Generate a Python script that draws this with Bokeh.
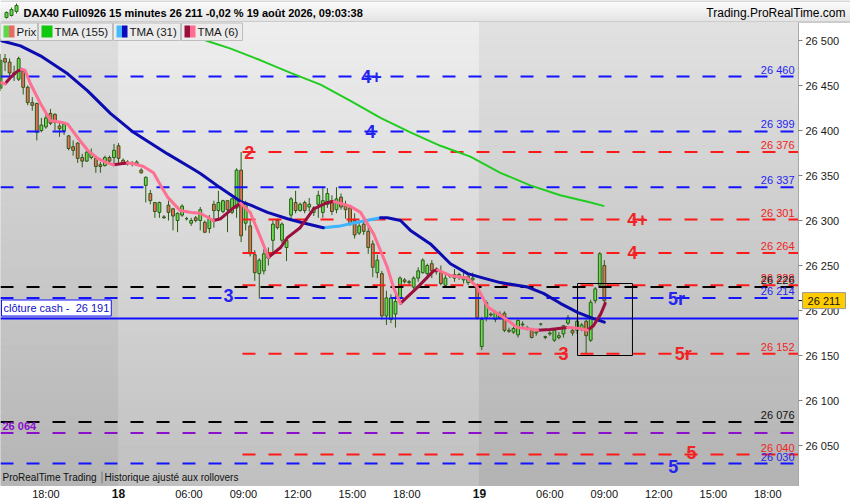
import numpy as np
from bokeh.plotting import figure
from bokeh.models import Range1d, LinearAxis, FixedTicker, Label
from bokeh.core.properties import value
from bokeh.embed import file_html
from bokeh.resources import INLINE

FONT = "Liberation Sans"

# ---------------- data ----------------
# 15-minute candles, bar index 0 = 17 Aug 15:30
opens = [26447,26480,26476,26464,26457,26466,26448,26431,26430,26400,26404,26419,26418,26405,26400,26394,26382,26386,26370,26366,
         26370,26369,26362,26361,26370,26370,26383,26367,26365,26364,26363,26356,26339,26330,26320,26309,26304,26317,26313,26300,
         26306,26302,26297,26303,26300,26298,26291,26318,26311,26310,26322,26309,26314,26356,26297,26294,26262,26241,26244,26258,
         26278,26300,26278,26270,26306,26320,26311,26320,26315,26309,26318,26309,26318,26322,26312,26326,26318,26314,26300,26286,
         26296,26288,26274,26242,26241,26194,26190,26196,26214,26234,26232,26226,26236,26242,26241,26252,26246,26242,26228,26238,
         26236,26238,26234,26231,26234,26226,26160,26192,26196,26190,26192,26197,26178,26176,26173,26185,26180,26178,26175,26185,
         26171,26174,26167,26170,26174,26186,26178,26178,26180,26188,26167,26211,26228,26250]
highs = [26485,26485,26480,26472,26482,26468,26450,26437,26431,26414,26420,26424,26419,26410,26408,26395,26389,26387,26374,26378,
         26380,26372,26365,26372,26372,26385,26386,26369,26367,26366,26367,26358,26349,26334,26320,26321,26306,26322,26314,26309,
         26318,26304,26303,26305,26315,26300,26306,26322,26333,26323,26322,26325,26358,26376,26322,26300,26267,26258,26268,26270,
         26300,26302,26298,26280,26326,26333,26320,26322,26325,26316,26333,26337,26336,26328,26337,26330,26322,26316,26308,26300,
         26302,26297,26278,26262,26244,26222,26218,26222,26238,26236,26234,26238,26248,26258,26252,26256,26248,26250,26240,26240,
         26246,26242,26242,26240,26242,26230,26193,26211,26198,26200,26199,26199,26181,26182,26190,26188,26183,26180,26178,26186,
         26172,26177,26180,26176,26184,26195,26180,26190,26186,26190,26212,26226,26265,26256]
lows = [26444,26466,26460,26455,26455,26440,26428,26422,26389,26398,26402,26406,26400,26393,26395,26378,26372,26364,26359,26365,
        26368,26353,26353,26360,26362,26363,26364,26362,26361,26360,26361,26352,26320,26318,26303,26303,26302,26300,26289,26287,
        26304,26300,26294,26298,26289,26286,26286,26292,26300,26308,26287,26307,26303,26276,26289,26260,26233,26213,26240,26250,
        26262,26290,26275,26255,26300,26308,26310,26308,26310,26305,26303,26303,26314,26306,26308,26312,26302,26294,26280,26284,
        26284,26263,26237,26236,26190,26184,26186,26181,26212,26230,26228,26224,26232,26241,26238,26236,26240,26228,26226,26236,
        26232,26234,26230,26228,26230,26190,26156,26188,26193,26187,26190,26176,26175,26174,26170,26182,26178,26169,26172,26183,
        26168,26172,26165,26168,26170,26184,26172,26174,26177,26152,26165,26208,26226,26205]
closes = [26478,26476,26464,26462,26480,26448,26431,26428,26398,26406,26414,26408,26409,26402,26407,26380,26378,26369,26366,26376,
          26375,26360,26360,26370,26366,26378,26369,26363,26364,26363,26365,26353,26348,26322,26310,26320,26303,26309,26305,26308,
          26316,26302,26300,26300,26312,26287,26302,26311,26320,26322,26312,26324,26356,26283,26320,26263,26242,26256,26263,26262,
          26296,26292,26296,26278,26324,26311,26318,26311,26318,26314,26328,26322,26330,26310,26324,26315,26312,26296,26284,26294,
          26288,26270,26248,26256,26194,26214,26214,26210,26236,26232,26231,26236,26244,26256,26250,26244,26243,26230,26236,26238,
          26240,26240,26236,26238,26236,26192,26190,26209,26195,26198,26196,26178,26177,26180,26189,26184,26181,26170,26176,26185,
          26170,26175,26178,26172,26183,26192,26175,26188,26184,26172,26209,26224,26263,26211]
bars = list(range(len(opens)))

# TMA(155)
tma155_x = [45.2, 50.7, 57.3, 63.9, 70.5, 77.1, 83.7, 90.3, 96.9, 103.5, 110.1, 116.7, 123.3, 130.0, 133.0]
tma155_y = [26500, 26491, 26478, 26464, 26451, 26433, 26414, 26398, 26383, 26371, 26353, 26339, 26328, 26320, 26316]
# TMA(31)
tma31_x = [0, 4.4, 8.8, 14.8, 19.2, 24.2, 29.3, 32.4, 36.8, 42.5, 44.1, 48.5, 52.9, 55.1, 58.8, 63.2, 66.1, 71.1, 74.9,
           78.6, 83.7, 85.2, 88.1, 90.3, 94.7, 99.1, 102.9, 106.4, 110.1, 116.1, 119.6, 123.3, 127.1, 130.6, 133.0]
tma31_y = [26500, 26494, 26483, 26463, 26444, 26419, 26398, 26388, 26374, 26357, 26352, 26336, 26321, 26317, 26309, 26302,
           26298, 26292, 26294, 26298, 26303, 26303, 26300, 26289, 26274, 26252, 26241, 26236, 26231, 26226, 26219, 26208,
           26198, 26191, 26187]
# TMA(6)
tma6_x = [0.0, 1.0, 2.2, 3.5, 4.6, 5.4, 6.6, 8.8, 11.0, 13.6, 14.8, 17.0, 19.2, 21.4, 23.5, 24.9, 26.5, 28.0, 29.3, 31.5,
          33.7, 35.5, 36.8, 39.6, 42.0, 44.0, 46.9, 48.5, 51.3, 52.9, 55.0, 57.3, 59.0, 61.7, 63.2, 66.0, 69.0, 72.0, 73.5,
          75.0, 77.0, 79.3, 82.2, 85.2, 86.6, 88.1, 91.9, 95.4, 96.3, 99.0, 102.9, 105.0, 107.3, 110.0, 112.3, 113.9, 117.4,
          118.3, 121.0, 124.9, 125.6, 127.5, 129.3, 130.6, 132.2, 133.2]
tma6_y = [26453, 26452, 26459, 26465, 26468, 26467, 26452, 26430, 26411, 26409, 26407, 26392, 26378, 26369, 26364, 26362,
          26363, 26364, 26363, 26360, 26353, 26337, 26326, 26311, 26309, 26308, 26300, 26302, 26314, 26319, 26309, 26281,
          26259, 26270, 26281, 26292, 26313, 26320, 26321, 26319, 26316, 26309, 26285, 26248, 26225, 26208, 26226, 26244,
          26245, 26239, 26236, 26226, 26204, 26195, 26187, 26181, 26179, 26178, 26179, 26181, 26181, 26180, 26178, 26183,
          26196, 26208]

# horizontal levels
level_vals = [26460, 26399, 26376, 26337, 26301, 26264, 26228, 26226, 26214, 26191, 26152, 26076, 26064, 26040, 26030]
level_kind = ["blue", "blue", "red", "blue", "red", "red", "red", "black", "blue", "cash", "red", "black", "purple", "red", "blue"]
red_level_start = 53.3          # 09:00 on the 18th
cash_close = 26191

# level annotations
ann_text = ["4+", "4", "2", "3", "4+", "4", "5r", "3", "5r", "5", "5"]
ann_level = [26460, 26399, 26376, 26214, 26301, 26264, 26214, 26152, 26152, 26040, 26030]
ann_bar = [81.7, 81.5, 54.8, 50.2, 140.3, 139.2, 148.9, 124.0, 150.4, 152.2, 148.2]
ann_kind = ["blue", "blue", "red", "blue", "red", "red", "blue", "red", "red", "red", "blue"]
ann_dy = [0, 0, 0, -2, 0, 0, 1, 0, 0, -2, 3]

# box around the latest bars
box_bars = (127.1, 139.2)
box_vals = (26150, 26230)

last_price = 26211
yticks = [26050, 26100, 26150, 26200, 26250, 26300, 26350, 26400, 26450, 26500]
xtick_pos = [10, 26, 41.5, 53.5, 65.5, 77.5, 89.5, 105.5, 121, 133, 145, 157, 169]
xtick_lbl = ["18:00", "18", "06:00", "09:00", "12:00", "15:00", "18:00", "19", "06:00", "09:00", "12:00", "15:00", "18:00"]
day_starts = [26, 105.5]

# ---------------- layout helpers ----------------
PXB = 4.54    # pixels per bar
PXP = 0.9     # pixels per point
def bx(px):
    return px / PXB
def vy(py):
    return 26500 - (py - 40) / PXP

def fmt(v):
    return f"{v:,}".replace(",", " ")

def lerp(c0, c1, t):
    a = [int(c0[i:i + 2], 16) for i in (1, 3, 5)]
    b = [int(c1[i:i + 2], 16) for i in (1, 3, 5)]
    return "#%02x%02x%02x" % tuple(int(round(a[k] + (b[k] - a[k]) * t)) for k in range(3))

COL = {"blue": "#1414ff", "red": "#ff1a1a", "black": "#000000", "purple": "#8a10cc", "cash": "#1010ff"}
TXT = {"blue": "#2424f0", "red": "#f02424", "black": "#111111", "purple": "#8a10cc"}

PLOT_R = bx(798)     # right edge of the price area
PLOT_B = vy(485)     # bottom edge of the price area
PLOT_T = vy(22)      # top edge of the price area

p = figure(width=850, height=500, x_range=Range1d(0, bx(850)), y_range=Range1d(vy(500), vy(0)),
           output_backend="svg", toolbar_location=None, x_axis_location=None, y_axis_location=None,
           min_border=0)
p.grid.visible = False
p.outline_line_color = None
p.border_fill_color = "white"
p.background_fill_color = "white"

# header band
nb = 11
hc = [lerp("#fcfcfc", "#e4e4e4", k / (nb - 1)) for k in range(nb)]
p.quad(left=[0] * nb, right=[bx(850)] * nb, top=[vy(k * 2) for k in range(nb)], bottom=[vy(k * 2 + 2) for k in range(nb)],
       fill_color=hc, line_color=hc)
p.segment(x0=[0, 0], y0=[vy(0.5), vy(21.5)], x1=[bx(850)] * 2, y1=[vy(0.5), vy(21.5)], line_color="#b4b4b4", line_width=1)
p.segment(x0=[bx(6), bx(11), bx(16)], y0=[vy(18), vy(16), vy(13)], x1=[bx(6), bx(11), bx(16)], y1=[vy(11), vy(7), vy(3)],
          line_color="#2e6a18", line_width=1)
p.vbar(x=[bx(6), bx(11), bx(16)], width=bx(3), bottom=[vy(17), vy(15), vy(11)], top=[vy(12), vy(9), vy(5)],
       fill_color="#5ed84a", line_color="#2e6a18", line_width=1)
p.text(x=[bx(23)], y=[vy(12)], text=["DAX40 Full0926 15 minutes 26 211 -0,02 % 19 août 2026, 09:03:38"],
       text_font=value(FONT), text_font_style="bold", text_font_size="11px", text_baseline="middle",
       text_color="#000000")
p.text(x=[bx(845)], y=[vy(12)], text=["Trading.ProRealTime.com"], text_font=value(FONT), text_font_size="12px",
       text_baseline="middle", text_align="right", text_color="#000000")

# background: alternating day shading with vertical gradient
N = 60
regions = [(0, day_starts[0], "#dfdfdf", "#b5b5b5"),
           (day_starts[0], day_starts[1], "#eeeeee", "#c0c0c0"),
           (day_starts[1], PLOT_R, "#e1e1e1", "#b3b3b3")]
L, R, T, B, C = [], [], [], [], []
for (x0, x1, ctop, cbot) in regions:
    for k in range(N):
        py0 = 22 + k * (463 / N)
        py1 = 22 + (k + 1) * (463 / N)
        L.append(x0); R.append(x1); T.append(vy(py0)); B.append(vy(py1))
        C.append(lerp(ctop, cbot, (k + 0.5) / N))
p.quad(left=L, right=R, top=T, bottom=B, fill_color=C, line_color=C, line_width=1)

# candles
up = [c >= o for o, c in zip(opens, closes)]
body_top = [max(o, c) for o, c in zip(opens, closes)]
body_bot = [min(o, c) for o, c in zip(opens, closes)]
body_col = ["#66de50" if u else "#ee6c5c" for u in up]
p.segment(x0=bars, y0=lows, x1=bars, y1=highs, line_color="#2c5a16", line_width=1)
p.vbar(x=bars, width=0.62, top=body_top, bottom=body_bot, fill_color=body_col, line_color="#2c5a16", line_width=1)

# level lines
for v, k in zip(level_vals, level_kind):
    if k == "cash":
        p.segment(x0=[0], y0=[v], x1=[PLOT_R], y1=[v], line_color=COL[k], line_width=2)
    elif k == "red":
        p.segment(x0=[red_level_start], y0=[v], x1=[PLOT_R], y1=[v], line_color=COL[k], line_width=2,
                  line_dash="13 13")
    else:
        p.segment(x0=[0], y0=[v], x1=[PLOT_R], y1=[v], line_color=COL[k], line_width=2, line_dash="13 13")

# box
p.quad(left=[box_bars[0]], right=[box_bars[1]], bottom=[box_vals[0]], top=[box_vals[1]],
       fill_color=None, line_color="#000000", line_width=1)

# moving averages
def runs(xs, ys, c_up, c_dn):
    out = {c_up: ([], []), c_dn: ([], [])}
    cur, rx, ry = None, [], []
    for k in range(len(xs) - 1):
        c = c_up if ys[k + 1] > ys[k] else c_dn
        if c != cur:
            if cur is not None:
                out[cur][0].append(rx); out[cur][1].append(ry)
            rx, ry, cur = [xs[k]], [ys[k]], c
        rx.append(xs[k + 1]); ry.append(ys[k + 1])
    out[cur][0].append(rx); out[cur][1].append(ry)
    return out

p.line(tma155_x, tma155_y, line_color="#1fcc1f", line_width=2)
for c, (xs, ys) in runs(tma31_x, tma31_y, "#3cb4ff", "#0c0cb0").items():
    if xs:
        p.multi_line(xs, ys, line_color=c, line_width=3, line_join="round", line_cap="round")
for c, (xs, ys) in runs(tma6_x, tma6_y, "#9a0f3c", "#ff6f92").items():
    if xs:
        p.multi_line(xs, ys, line_color=c, line_width=3, line_join="round", line_cap="round")

# level value labels at right
for v, k in zip(level_vals, level_kind):
    if k in ("cash", "purple"):
        continue
    p.text(x=[PLOT_R], y=[v], text=[fmt(v)], x_offset=-4, y_offset=-1, text_align="right", text_baseline="bottom",
           text_font=value(FONT), text_font_size="11px", text_color=TXT[k])
for v, k in zip(level_vals, level_kind):
    if k == "purple":
        p.text(x=[bx(2)], y=[v], text=[fmt(v)], y_offset=-1, text_align="left", text_baseline="bottom",
               text_font=value(FONT), text_font_size="11px", text_color=TXT[k], text_font_style="bold")

# level annotations
for t, v, b, k, dy in zip(ann_text, ann_level, ann_bar, ann_kind, ann_dy):
    p.text(x=[b], y=[v], text=[t], y_offset=dy, text_align="center", text_baseline="middle",
           text_font=value(FONT), text_font_size="18px", text_font_style="bold", text_color=TXT[k])

# clôture cash label
p.add_layout(Label(x=bx(1), y=vy(315.5), text="clôture cash -\u00a0 " + fmt(cash_close),
                   text_baseline="bottom", text_align="left", text_font=FONT, text_font_size="11px",
                   text_color="#1010c8", background_fill_color="white", border_line_color="#1414ff",
                   border_line_width=1, padding=2))

# bottom-left notes
p.text(x=[bx(2)], y=[vy(477)], text=["ProRealTime Trading"], text_baseline="middle",
       text_font=value(FONT), text_font_size="10px", text_color="#111111")
p.text(x=[bx(104)], y=[vy(477)], text=["Historique ajusté aux rollovers"], text_baseline="middle",
       text_font=value(FONT), text_font_size="10px", text_color="#111111")
p.segment(x0=[bx(101.5)], y0=[vy(471)], x1=[bx(101.5)], y1=[vy(483)], line_color="#777777", line_width=1)

# legend row
leg_boxes = [(0, 37), (38, 112), (113, 180), (181, 242)]
leg_text = ["Prix", "TMA (155)", "TMA (31)", "TMA (6)"]
leg_icons = [("#5ed84a", "#e86a60"), ("#10c810", "#10c810"), ("#44bbff", "#0a0ac0"), ("#9a0f3c", "#ff6f92")]
p.quad(left=[bx(a) for a, b in leg_boxes], right=[bx(b) for a, b in leg_boxes],
       top=[vy(22.5)] * 4, bottom=[vy(40)] * 4, fill_color="#ececec", line_color="#bdbdbd", line_width=1)
for (a, b), t, (c1, c2) in zip(leg_boxes, leg_text, leg_icons):
    p.quad(left=[bx(a + 3)], right=[bx(a + 8.5)], top=[vy(25)], bottom=[vy(37)], fill_color=c1, line_color=None)
    p.quad(left=[bx(a + 8.5)], right=[bx(a + 14)], top=[vy(25)], bottom=[vy(37)], fill_color=c2, line_color=None)
    p.text(x=[bx(a + 16)], y=[vy(31)], text=[t], text_baseline="middle", text_font=value(FONT),
           text_font_size="11.5px", text_color="#1a1a1a")

# right price axis (drawn at the edge of the price area)
ax = LinearAxis(ticker=FixedTicker(ticks=yticks), major_label_overrides={t: fmt(t) for t in yticks},
                fixed_location=PLOT_R, bounds=(PLOT_B, PLOT_T))
ax.axis_line_color = "#a8a8a8"
ax.major_tick_line_color = "#808080"
ax.major_tick_out = 4
ax.major_tick_in = 0
ax.minor_tick_out = 0
ax.minor_tick_in = 0
ax.major_label_standoff = 3
ax.major_label_text_font = FONT
ax.major_label_text_font_size = "11px"
ax.major_label_text_color = "#1a1a1a"
p.add_layout(ax, "right")

# time axis
xlabels = {pos: ("" if lbl in ("18", "19") else lbl) for pos, lbl in zip(xtick_pos, xtick_lbl)}
xax = LinearAxis(ticker=FixedTicker(ticks=xtick_pos), major_label_overrides=xlabels,
                 fixed_location=PLOT_B, bounds=(0, PLOT_R))
xax.axis_line_color = None
xax.major_tick_line_color = None
xax.minor_tick_line_color = None
xax.major_tick_out = 0
xax.major_label_standoff = 2
xax.major_label_text_font = FONT
xax.major_label_text_font_size = "11px"
xax.major_label_text_color = "#111111"
p.add_layout(xax, "below")
for pos, lbl in zip(xtick_pos, xtick_lbl):
    if lbl in ("18", "19"):
        p.text(x=[pos], y=[vy(493)], text=[lbl], text_align="center", text_baseline="middle",
               text_font=value(FONT), text_font_size="12px", text_font_style="bold", text_color="#111111")

# last price marker on the price axis
p.segment(x0=[PLOT_R], y0=[last_price], x1=[bx(803)], y1=[last_price], line_color="#000000", line_width=1,
          level="overlay")
p.quad(left=[bx(802)], right=[bx(845)], top=[last_price + 8 / PXP], bottom=[last_price - 8 / PXP],
       fill_color="#ffcc00", line_color="#9a9a9a", line_width=1, level="overlay")
p.text(x=[bx(823.5)], y=[last_price], text=[fmt(last_price)], text_align="center", text_baseline="middle",
       text_font=value(FONT), text_font_size="11px", text_color="#111111", level="overlay")

open("out.html", "w", encoding="utf-8").write(file_html(p, INLINE))
